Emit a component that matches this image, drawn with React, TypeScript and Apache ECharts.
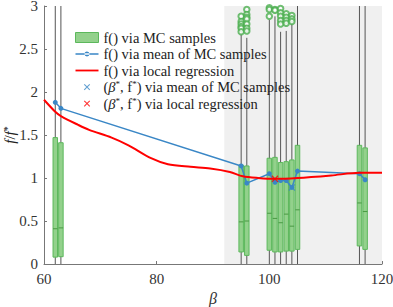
import React, { useEffect, useRef } from "react";
import * as echarts from "echarts";

const BETA = [62, 63, 95, 96, 100, 101, 102, 103, 104, 105, 116, 117];
const WHISK_LO = [0, 0, 0, 0, 0, 0, 0, 0, 0, 0, 0, 0];
const Q1 = [0.08, 0.085, 0.14, 0.1, 0.16, 0.14, 0.14, 0.15, 0.15, 0.17, 0.21, 0.17];
const MEDIAN = [0.41, 0.42, 0.49, 0.5, 0.59, 0.53, 0.48, 0.58, 0.44, 0.63, 0.71, 0.61];
const Q3 = [1.47, 1.41, 1.15, 1.14, 1.23, 1.24, 1.18, 1.19, 1.21, 1.38, 1.38, 1.35];
const WHISK_HI = [3, 3, 2.69, 2.63, 2.84, 2.88, 2.7, 2.71, 2.79, 3, 3, 3];
const MEAN = [1.88, 1.81, 1.14, 0.94, 1.05, 0.95, 0.97, 0.97, 0.89, 1.08, 1.05, 0.98];

const OUTLIER_BETA = [95, 95, 95, 95, 95, 95, 96, 96, 96, 96, 96, 96, 96, 100, 100, 100, 101, 101, 102, 102, 102, 102, 102, 103, 103, 103, 103, 104, 104, 104];
const OUTLIER_VAL = [2.88, 2.82, 2.79, 2.76, 2.74, 2.7, 2.96, 2.9, 2.87, 2.85, 2.79, 2.74, 2.71, 2.98, 2.96, 2.88, 2.96, 2.95, 2.97, 2.92, 2.88, 2.83, 2.79, 2.91, 2.87, 2.83, 2.8, 2.89, 2.85, 2.82];

const REG_BETA = [60, 62, 63, 66, 68, 72, 75, 79, 82, 86, 89.5, 93, 95.3, 98, 101, 105, 111, 116, 120];
const REG_VAL = [1.91, 1.77, 1.72, 1.62, 1.56, 1.47, 1.38, 1.23, 1.16, 1.13, 1.11, 1.07, 1.02, 1.0, 0.99, 1.0, 1.03, 1.06, 1.06];

const OPT_MEAN = [104, 0.89];
const OPT_REG = [101, 0.99];

const SHADE_FROM = 92;
const SHADE_TO = 120;

const X_TICKS = [60, 80, 100, 120];
const Y_TICKS = [0, 0.5, 1, 1.5, 2, 2.5, 3];

const FONT = "Liberation Serif";
const CROSS = "path://M0,1.2L1.2,0L5,3.8L8.8,0L10,1.2L6.2,5L10,8.8L8.8,10L5,6.2L1.2,10L0,8.8L3.8,5Z";
const CROSS_ICON =
  "path://M-3,-3L-2.99,-3L-3,-2.99Z M13,13L12.99,13L13,12.99Z M0,1.2L1.2,0L5,3.8L8.8,0L10,1.2L6.2,5L10,8.8L8.8,10L5,6.2L1.2,10L0,8.8L3.8,5Z";
const LINE_ICON = "path://M0,4.1L23,4.1L23,5.9L0,5.9Z";
const LINE_DOT_ICON = "path://M0,4.3L23,4.3L23,5.7L0,5.7Z M9,5A2.5,2.5 0 1,0 14,5A2.5,2.5 0 1,0 9,5Z";

export default function App() {
  const ref = useRef<HTMLDivElement>(null);
  useEffect(() => {
    if (!ref.current) return;
    const chart = echarts.init(ref.current, null, { renderer: "svg" });
    const boxData = BETA.map((b, i) => [b, WHISK_LO[i], Q1[i], MEDIAN[i], Q3[i], WHISK_HI[i]]);
    const rich = {
      i: { fontFamily: FONT, fontStyle: "italic", fontSize: 15, color: "#222" },
      s: { fontFamily: FONT, fontSize: 10, verticalAlign: "top", padding: [0, 0, 6, 0], color: "#222" },
      n: { fontFamily: FONT, fontSize: 15, color: "#222" },
    };
    chart.setOption({
      animation: false,
      grid: { left: 44, right: 11, top: 6, bottom: 43, containLabel: false, outerBoundsMode: "none" },
      xAxis: {
        type: "value",
        min: 60,
        max: 120,
        interval: 20,
        name: "β",
        nameLocation: "middle",
        nameGap: 26,
        nameMoveOverlap: false,
        nameTextStyle: { fontFamily: FONT, fontStyle: "italic", fontSize: 16, color: "#333" },
        axisLine: { show: true, lineStyle: { color: "#777" } },
        axisTick: { show: true, inside: true, length: 3, lineStyle: { color: "#777" } },
        axisLabel: {
          fontFamily: FONT,
          fontSize: 15,
          color: "#333",
          margin: 7,
          formatter: (v: number) => (X_TICKS.includes(v) ? String(v) : ""),
        },
        splitLine: { show: false },
      },
      yAxis: {
        type: "value",
        min: 0,
        max: 3,
        interval: 0.5,
        name: "{i|f}{n|/}{i|f}{s|*}",
        nameLocation: "middle",
        nameGap: 26,
        nameMoveOverlap: false,
        nameTextStyle: { rich },
        axisLine: { show: true, lineStyle: { color: "#777" } },
        axisTick: { show: true, inside: true, length: 3, lineStyle: { color: "#777" } },
        axisLabel: {
          fontFamily: FONT,
          fontSize: 15,
          color: "#333",
          margin: 6,
          formatter: (v: number) => (Y_TICKS.includes(v) ? String(v) : ""),
        },
        splitLine: { show: false },
      },
      legend: {
        orient: "vertical",
        left: 75,
        top: 30,
        padding: 0,
        itemWidth: 23,
        itemHeight: 10,
        itemGap: 1.5,
        backgroundColor: "transparent",
        textStyle: {
          fontFamily: FONT,
          fontSize: 14.5,
          lineHeight: 15,
          color: "#222",
          rich: {
            i: { fontFamily: FONT, fontStyle: "italic", fontSize: 14.5, lineHeight: 15, color: "#222" },
            s: { fontFamily: FONT, fontSize: 9, lineHeight: 15, verticalAlign: "top", padding: [0, 0, 6, 0], color: "#222" },
          },
        },
        formatter: (name: string) => {
          if (name === "optmean") return "({i|β}{s|*}, f{s|*}) via mean of MC samples";
          if (name === "optreg") return "({i|β}{s|*}, f{s|*}) via local regression";
          return name;
        },
        data: [
          { name: "f() via MC samples", icon: "rect", itemStyle: { color: "#93d18c", borderColor: "#5cb85c", borderWidth: 1 } },
          { name: "f() via mean of MC samples", icon: LINE_DOT_ICON, itemStyle: { color: "#3a87c6" } },
          { name: "f() via local regression", icon: LINE_ICON, itemStyle: { color: "#ff0000" } },
          { name: "optmean", icon: CROSS_ICON, itemStyle: { color: "#3a87c6" } },
          { name: "optreg", icon: CROSS_ICON, itemStyle: { color: "#ff0000" } },
        ],
      },
      series: [
        {
          type: "line",
          name: "shade",
          data: [],
          z: 0,
          silent: true,
          markArea: {
            silent: true,
            itemStyle: { color: "#f0f0f0" },
            data: [[{ xAxis: SHADE_FROM }, { xAxis: SHADE_TO }]],
          },
        },
        {
          type: "custom",
          name: "f() via MC samples",
          itemStyle: { color: "#93d18c" },
          z: 2,
          renderItem: (params: any, api: any) => {
            const x = api.value(0);
            const lo = api.coord([x, api.value(1)]);
            const q1 = api.coord([x, api.value(2)]);
            const med = api.coord([x, api.value(3)]);
            const q3 = api.coord([x, api.value(4)]);
            const hi = api.coord([x, api.value(5)]);
            const w = 4.5;
            return {
              type: "group",
              children: [
                { type: "line", shape: { x1: lo[0], y1: lo[1], x2: hi[0], y2: hi[1] }, style: { stroke: "#555", lineWidth: 1 } },
                { type: "rect", shape: { x: q3[0] - w / 2, y: q3[1], width: w, height: q1[1] - q3[1] }, style: { fill: "#93d18c", stroke: "#5cb85c", lineWidth: 1 } },
                { type: "line", shape: { x1: med[0] - w / 2, y1: med[1], x2: med[0] + w / 2, y2: med[1] }, style: { stroke: "#4a9a44", lineWidth: 1 } },
              ],
            };
          },
          data: boxData,
        },
        {
          type: "scatter",
          name: "outliers",
          symbol: "emptyCircle",
          symbolSize: 5.5,
          itemStyle: { color: "#4caf50", borderColor: "#4caf50", borderWidth: 1 },
          z: 3,
          data: OUTLIER_BETA.map((b, i) => [b, OUTLIER_VAL[i]]),
        },
        {
          type: "line",
          name: "f() via mean of MC samples",
          symbol: "circle",
          symbolSize: 5,
          showSymbol: true,
          lineStyle: { color: "#3a87c6", width: 1.5 },
          itemStyle: { color: "#3a87c6" },
          z: 4,
          data: BETA.map((b, i) => [b, MEAN[i]]),
        },
        {
          type: "line",
          name: "f() via local regression",
          symbol: "none",
          smooth: 0.3,
          lineStyle: { color: "#ff0000", width: 2 },
          itemStyle: { color: "#ff0000" },
          z: 5,
          data: REG_BETA.map((b, i) => [b, REG_VAL[i]]),
        },
        {
          type: "scatter",
          name: "optmean",
          symbol: CROSS,
          symbolSize: 7,
          itemStyle: { color: "#3a87c6" },
          z: 6,
          data: [OPT_MEAN],
        },
        {
          type: "scatter",
          name: "optreg",
          symbol: CROSS,
          symbolSize: 7,
          itemStyle: { color: "#ff0000" },
          z: 6,
          data: [OPT_REG],
        },
      ],
    });
    return () => chart.dispose();
  }, []);
  return <div ref={ref} style={{ width: 393, height: 307, position: "absolute", left: 0, top: 0 }} />;
}
